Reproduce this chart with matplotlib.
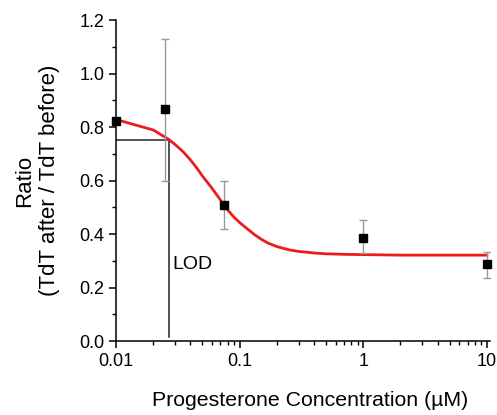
import matplotlib
matplotlib.use("Agg")
import matplotlib.pyplot as plt
from matplotlib.ticker import FixedLocator, MultipleLocator, LogLocator, NullFormatter

plt.rcParams["font.family"] = ["Liberation Sans", "DejaVu Sans"]

# measured points
conc = [0.01, 0.025, 0.075, 1.0, 10.0]
ratio = [0.824, 0.866, 0.508, 0.386, 0.287]
err_lo = [0.0, 0.266, 0.090, 0.058, 0.050]
err_hi = [0.0, 0.263, 0.092, 0.065, 0.047]

# fitted curve
fit_x = [0.01, 0.02, 0.0266, 0.03, 0.035, 0.04, 0.045, 0.05, 0.06, 0.07, 0.08,
         0.09, 0.1, 0.11, 0.12, 0.13, 0.15, 0.17, 0.2, 0.25, 0.3, 0.4, 0.5,
         0.7, 1.0, 2.0, 5.0, 10.0]
fit_y = [0.828, 0.789, 0.754, 0.735, 0.707, 0.677, 0.647, 0.617, 0.570, 0.527,
         0.490, 0.463, 0.443, 0.427, 0.413, 0.400, 0.380, 0.366, 0.353, 0.341,
         0.335, 0.329, 0.326, 0.324, 0.323, 0.321, 0.321, 0.321]

# limit of detection
lod_x = 0.0266
lod_y = 0.75

fig = plt.figure(figsize=(4.97, 4.15), dpi=100)
ax = fig.add_axes([0.2334, 0.1783, 0.7525, 0.7735])

ax.plot([0.01, lod_x], [lod_y, lod_y], color="#222222", lw=1.1, zorder=2)
ax.plot([lod_x, lod_x], [lod_y, 0.015], color="#222222", lw=1.1, zorder=2)
ax.text(lod_x * 1.07, 0.286, "LOD", fontsize=14, va="center", ha="left")

ax.plot(fit_x, fit_y, color="#ec1c1c", lw=2.0, zorder=3)
ax.errorbar(conc, ratio, yerr=[err_lo, err_hi], fmt="none", ecolor="#999999",
            elinewidth=1.0, capsize=3, capthick=1.0, zorder=4)
ax.plot(conc, ratio, "s", color="black", ms=5.5, zorder=5, clip_on=False)

ax.set_xscale("log")
ax.set_xlim(0.01, 10.6)
ax.set_ylim(0, 1.2)
ax.xaxis.set_major_locator(FixedLocator([0.01, 0.1, 1, 10]))
ax.set_xticklabels(["0.01", "0.1", "1", "10"])
ax.xaxis.set_minor_locator(LogLocator(base=10, subs=range(2, 10)))
ax.xaxis.set_minor_formatter(NullFormatter())
ax.yaxis.set_major_locator(MultipleLocator(0.2))
ax.yaxis.set_minor_locator(MultipleLocator(0.1))
ax.yaxis.set_major_formatter(plt.FuncFormatter(lambda v, p: f"{v:.1f}"))

for side in ["top", "right"]:
    ax.spines[side].set_visible(False)
for side in ["left", "bottom"]:
    ax.spines[side].set_linewidth(1.1)
ax.tick_params(which="major", direction="out", length=5, width=1.1,
               labelsize=13, colors="black")
ax.tick_params(which="minor", direction="out", length=3, width=1.0)

ax.set_xlabel("Progesterone Concentration (\u00b5M)", fontsize=15.3, labelpad=17)
ax.xaxis.set_label_coords(0.52, -0.155)
ax.set_ylabel("Ratio\n(TdT after / TdT before)", fontsize=16, labelpad=14)

fig.savefig("out.png", dpi=100)
